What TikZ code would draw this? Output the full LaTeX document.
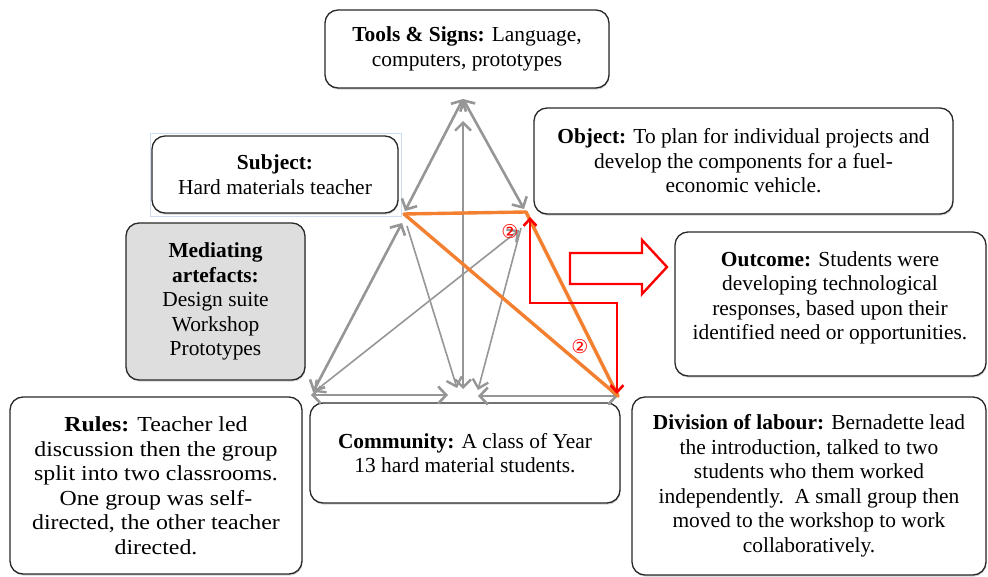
\documentclass[tikz,border=0pt]{standalone}
\usepackage{fontspec}
\setmainfont{Liberation Serif}
\newfontfamily\rulesfont{Liberation Serif}[FakeStretch=1.115]
\newfontfamily\symfont{DejaVu Sans}
\usetikzlibrary{arrows.meta,shadows}
\definecolor{gline}{RGB}{150,150,150}
\definecolor{orng}{RGB}{242,128,48}
\definecolor{medfill}{RGB}{222,222,222}
\definecolor{selblue}{RGB}{205,220,240}
\definecolor{boxline}{RGB}{40,40,40}
\begin{document}
\begin{tikzpicture}[x=1pt,y=-1pt,
  box/.style={draw=boxline, line width=1.3pt, rounded corners=13pt, fill=white,
    align=center, inner sep=0pt, font=\fontsize{21.4}{24.5}\selectfont,
    drop shadow={shadow xshift=0.6pt,shadow yshift=-1.6pt,opacity=0.35}},
  txt/.style={align=center, inner sep=0pt, font=\fontsize{21.4}{24.5}\selectfont},
  gthick/.style={draw=gline, line width=2.6pt, >={Straight Barb[length=8pt,width=17pt]}},
  gthin/.style={draw=gline, line width=1.6pt, >={Straight Barb[length=8pt,width=16pt,line width=2.4pt]}},
  oline/.style={draw=orng, line width=3.4pt, line cap=round},
  rline/.style={draw=red, line width=1.4pt, >={Straight Barb[length=7pt,width=13pt,line width=2.6pt]}},
  mark2/.style={text=red, inner sep=0pt, font=\symfont\fontsize{19}{19}\selectfont}
]
\useasboundingbox (0,0) rectangle (988,577);

% boxes
\node[box, minimum width=284pt, minimum height=78pt] (tools) at (467,49)
  {\textbf{Tools \& Signs:} Language,\\computers, prototypes};
\draw[selblue, line width=0.6pt] (150,133) rectangle (401,216);
\node[box, minimum width=246pt, minimum height=77pt] (subject) at (275,174.5)
  {\textbf{Subject:}\\Hard materials teacher};
\node[box, minimum width=419pt, minimum height=106pt] (object) at (743.5,161)
  {\textbf{Object:} To plan for individual projects and\\develop the components for a fuel-\\economic vehicle.};
\node[box, fill=medfill, minimum width=179pt, minimum height=157pt] (mediating) at (215.5,301.5)
  {\textbf{Mediating}\\\textbf{artefacts:}\\Design suite\\Workshop\\Prototypes};
\node[box, minimum width=311pt, minimum height=144pt] (outcome) at (830.5,304) {};
\node[txt] (outcometext) at (830,298)
  {\textbf{Outcome:} Students were\\developing technological\\responses, based upon their\\identified need or opportunities.};
\node[box, font=\rulesfont\fontsize{21.4}{24.5}\selectfont, minimum width=292pt, minimum height=177pt] (rules) at (156,485.5)
  {\textbf{Rules:} Teacher led\\discussion then the group\\split into two classrooms.\\One group was self-\\directed, the other teacher\\directed.};
\node[box, minimum width=310pt, minimum height=100pt] (community) at (465,453)
  {\textbf{Community:} A class of Year\\13 hard material students.};
\node[box, minimum width=354pt, minimum height=178pt] (division) at (809,486)
  {\textbf{Division of labour:} Bernadette lead\\the introduction, talked to two\\students who them worked\\independently.\ \ A small group then\\moved to the workshop to work\\collaboratively.};

% triangle vertices
\coordinate (T) at (463,99);
\coordinate (S) at (404,214);
\coordinate (O) at (526,212);
\coordinate (R) at (311,395);
\coordinate (D) at (618,396);
\coordinate (Ts) at (405,211);
\coordinate (To) at (524,209);
\coordinate (Vt) at (463,121);
\coordinate (Vb) at (463,389);
\coordinate (Sl) at (402,223);
\coordinate (Rs) at (313,392);
\coordinate (Sc) at (407,226);
\coordinate (Cs) at (457,388);
\coordinate (Oc) at (521,228);
\coordinate (Co) at (478,390);
\coordinate (Or) at (519,230);
\coordinate (Ro) at (314,392);
\coordinate (Cl) at (448,395);
\coordinate (Cr) at (478,396);

% gray connectors
\draw[gthin,<->] (Ro) -- (Or);
\draw[gthin,->] (Sc) -- (Cs);
\draw[gthin,->] (Oc) -- (Co);
\draw[gthin,<->] (Vb) -- (Vt);
\draw[gthick,<->] (T) -- (Ts);
\draw[gthick,<->] (T) -- (To);
\draw[gthick,<->] (Rs) -- (Sl);
\draw[gthick,<->] (R) -- (Cl);
\draw[gthick,<->] (Cr) -- (D);

% orange triangle
\draw[oline] (S) -- (O);
\draw[oline] (S) -- (D);
\draw[oline] (O) -- (D);

% red path
\coordinate (Rt) at (530,217);
\coordinate (Rc1) at (530,303);
\coordinate (Rc2) at (617,303);
\coordinate (Rb) at (617,394);
\draw[rline,<->] (Rt) -- (Rc1) -- (Rc2) -- (Rb);

\node[mark2] (m1) at (510,232) {②};
\node[mark2] (m2) at (580,347) {②};

% hollow arrow to outcome
\draw[red, line width=2.4pt, fill=white, line join=miter]
  (570,253) -- (642,253) -- (642,240) -- (667,267) -- (642,294) -- (642,284) -- (570,284) -- cycle;
\end{tikzpicture}
\end{document}
